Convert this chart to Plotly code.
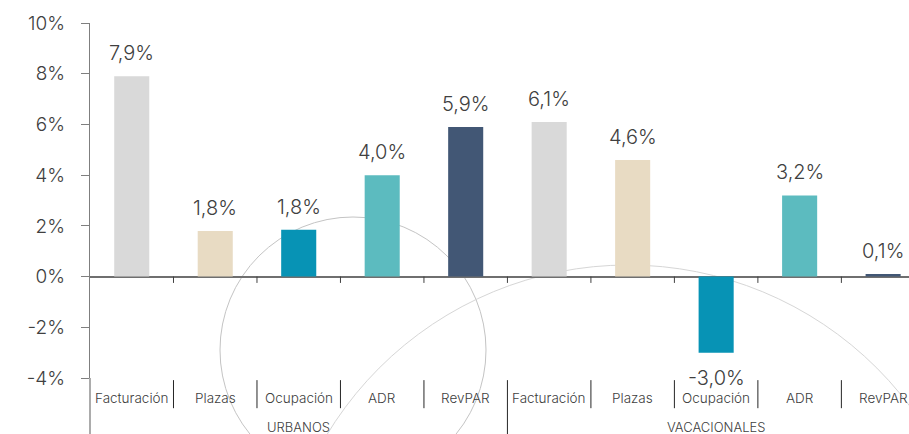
import plotly.graph_objects as go

# ---- data ----
groups = ["URBANOS", "VACACIONALES"]
metrics = ["Facturación", "Plazas", "Ocupación", "ADR", "RevPAR"]
urbanos = [7.9, 1.8, 1.85, 4.0, 5.9]
vacacionales = [6.1, 4.6, -3.0, 3.2, 0.1]
labels_urbanos = ["7,9%", "1,8%", "1,8%", "4,0%", "5,9%"]
labels_vacacionales = ["6,1%", "4,6%", "-3,0%", "3,2%", "0,1%"]
y_ticks = [-4, -2, 0, 2, 4, 6, 8, 10]
y_tick_text = ["-4%", "-2%", "0%", "2%", "4%", "6%", "8%", "10%"]

metric_colors = ["#d9d9d9", "#e8dbc3", "#0793b5", "#5cbbbf", "#425775"]

values = urbanos + vacacionales
labels = labels_urbanos + labels_vacacionales
cats = metrics + metrics
xs = list(range(len(values)))
colors = metric_colors * 2

FONT = "Inter"
TXT = "#404040"

fig = go.Figure()
fig.add_trace(go.Bar(
    x=xs, y=values, width=0.42,
    marker=dict(color=colors, line=dict(width=0)),
    hoverinfo="skip", showlegend=False,
))

x_lo, x_hi = -0.5, 9.31

annotations = []
for x, v, t in zip(xs, values, labels):
    if v >= 0:
        annotations.append(dict(x=x, y=v, xref="x", yref="y", text=t, showarrow=False,
                                yanchor="bottom", yshift=9,
                                font=dict(family=FONT, size=20, color=TXT, weight=300)))
    else:
        annotations.append(dict(x=x, y=v, xref="x", yref="y", text=t, showarrow=False,
                                yanchor="top", yshift=-11,
                                font=dict(family=FONT, size=20, color=TXT, weight=300)))

for x, c in zip(xs, cats):
    annotations.append(dict(x=x, y=-0.056, xref="x", yref="paper", text=c, showarrow=False,
                            yanchor="middle",
                            font=dict(family=FONT, size=13.5, color=TXT, weight=300)))
n = len(metrics)
for gi, g in enumerate(groups):
    annotations.append(dict(x=gi * n + (n - 1) / 2, y=-0.138, xref="x", yref="paper", text=g,
                            showarrow=False, yanchor="middle",
                            font=dict(family=FONT, size=13, color=TXT, weight=300)))

shapes = []
# decorative circles (pixel-based in paper coords)
W, H = 909, 434
L, T, B = 90, 23, 56
pw, ph = W - L, H - T - B


def px2paper(px, py):
    return (px - L) / pw, (H - B - py) / ph


for (cx, cy, r, col) in [(353, 350, 133, "#c4c4c4"), (628, 617, 352, "#d6d6d6")]:
    x0, y0 = px2paper(cx - r, cy + r)
    x1, y1 = px2paper(cx + r, cy - r)
    shapes.append(dict(type="circle", xref="paper", yref="paper", x0=x0, y0=y0, x1=x1, y1=y1,
                       line=dict(color=col, width=1), layer="below"))

# category separators under the axis
for k in range(1, len(values)):
    b = k - 0.5
    bottom = -0.16 if k % n == 0 else -0.085
    shapes.append(dict(type="line", xref="x", yref="paper", x0=b, x1=b, y0=-0.006, y1=bottom,
                       line=dict(color="#262626", width=1)))
    # boundary ticks on the zero line
    shapes.append(dict(type="line", xref="x", yref="y", x0=b, x1=b, y0=0, y1=-0.25,
                       line=dict(color="#404040", width=1)))
# y-axis extension
shapes.append(dict(type="line", xref="paper", yref="paper", x0=0, x1=0, y0=0, y1=-0.16,
                   line=dict(color="#7f7f7f", width=1.3)))

fig.update_layout(
    width=W, height=H,
    margin=dict(l=L, r=0, t=T, b=B, pad=0),
    paper_bgcolor="white", plot_bgcolor="white",
    separators=",.",
    font=dict(family=FONT, color=TXT),
    xaxis=dict(range=[x_lo, x_hi], showticklabels=False, showgrid=False, zeroline=False,
               showline=False, ticks=""),
    yaxis=dict(range=[-4, 10], tickvals=y_ticks, ticktext=y_tick_text, showgrid=False,
               showline=True, linecolor="#7f7f7f", linewidth=1.3,
               ticks="outside", ticklen=8, tickcolor="#7f7f7f", tickwidth=1.3,
               ticklabelstandoff=12,
               zeroline=True, zerolinecolor="#6f6f6f", zerolinewidth=2,
               tickfont=dict(family=FONT, size=19, color=TXT, weight=300)),
    annotations=annotations,
    shapes=shapes,
    bargap=0.58,
)

fig.write_html("out.html", config={"displayModeBar": False},
               post_script="document.body.style.margin='0';document.body.style.overflow='hidden';")
